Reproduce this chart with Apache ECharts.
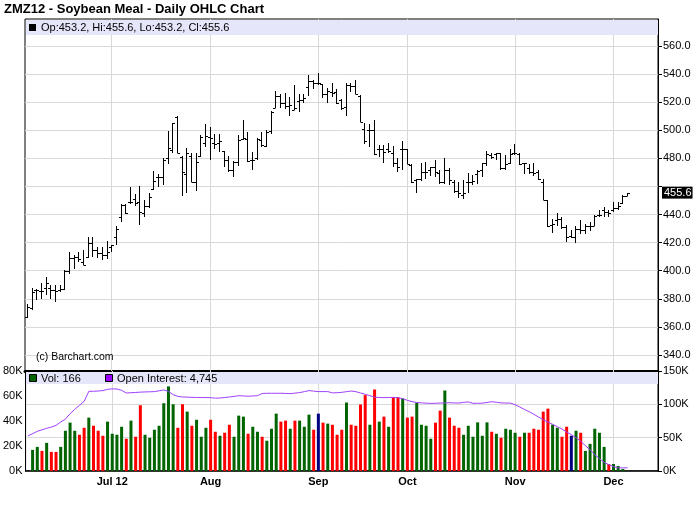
<!DOCTYPE html>
<html><head><meta charset="utf-8">
<script src="https://cdn.jsdelivr.net/npm/echarts@6/dist/echarts.min.js"></script>
<style>html,body{margin:0;padding:0;background:#fff}#c{width:700px;height:512px}</style>
</head><body><div id="c"></div>
<script>
// ---- categories (trading days) ----
const tradingDays = {
  '2012-06': [6,7,8,11,12,13,14,15,18,19,20,21,22,25,26,27,28,29],
  '2012-07': [2,3,5,6,9,10,11,12,13,16,17,18,19,20,23,24,25,26,27,30,31],
  '2012-08': [1,2,3,6,7,8,9,10,13,14,15,16,17,20,21,22,23,24,27,28,29,30,31],
  '2012-09': [4,5,6,7,10,11,12,13,14,17,18,19,20,21,24,25,26,27,28],
  '2012-10': [1,2,3,4,5,8,9,10,11,12,15,16,17,18,19,22,23,24,25,26,29,30,31],
  '2012-11': [1,2,5,6,7,8,9,12,13,14,15,16,19,20,21,23,26,27,28,29,30],
  '2012-12': [3,4,5,6]
};
const padDates = ['2012-12-07','2012-12-10','2012-12-11','2012-12-12','2012-12-13','2012-12-14'];
const monthStarts = ['2012-07-02','2012-08-01','2012-09-04','2012-10-01','2012-11-01','2012-12-03'];
const monthLabels = ['Jul 12','Aug','Sep','Oct','Nov','Dec'];
const priceTicks = [340,360,380,400,420,440,460,480,500,520,540,560];

// ---- series values ----
const open = [
367,373.5,386,385.5,387.5,388,386.5,386.5,387,400,
409,409.5,406,410,419.5,414.5,412.5,411,417,424,
438,446.5,449,451,449,441,446,458.5,467,466.5,
480,486,509.5,481,469,482,463,482,491,495,
491,491,485,479,471.5,477.5,494,494,478.5,480,
493,489,499.5,516,524.5,519.5,517,514.5,521,521.5,
531,535,534,533,526,527,527,521.5,516.5,532.5,
531.5,524.5,501,500,500,487,486.5,487,484,477,
487,486.5,475,464.5,465,470,471.5,474,469.5,463.5,
472,463.5,457,454,463,463.5,469,472,477,482.5,
483,483.5,473,476.5,483.5,483,476.5,473,470,470.5,
463.5,450,432.5,436,436.5,431,424.5,424,429.5,429,
431.5,432,439.5,443,442,443,445,448,453.2];
const high = [
376,388,387,391,395.5,389.5,389.5,389.5,400.5,413.5,
411.5,413,414.5,424,424,417,417,421,418,431.5,
447.5,447.5,459.5,454.5,460.5,450,455,471,469,480,
499.5,505.5,510,482,487.5,484,483.5,496.5,504.5,502,
497.5,497,485.5,482,478,496.5,507.5,498.5,484.5,494.5,
498.5,500,513.5,528,526,526.5,523.5,532,526,526,
539,535.5,541,533,530,533.5,529.5,522.5,534,534,
535.5,525,505,504.5,507,489.5,489.5,491,488.5,480.5,
492.5,487,476,465.5,477,477.5,474,478.5,471.5,480.5,
473,464.5,463.5,464.5,469.5,468,471.5,477,485,483.5,
484,484,482.5,487,490,484,477,476,476.5,471.5,
465,450.5,436.5,441,438,432.5,429,431.5,436,433.5,
435,439.5,443,445.5,443.5,449,449,454,455.6];
const low = [
366,372,379.5,380,383,380,377.5,384.5,386.5,398,
401.5,406,404,409,410,409,407.5,408.5,413,418.5,
435,440.5,447.5,446,432.5,438,445,457.5,459.5,461,
476,484,484,453.5,455.5,463,457,481,488,478.5,
487,484.5,474,470.5,466.5,474.5,493,477.5,471.5,478.5,
488,488,497.5,516,516,515.5,510.5,514.5,513,519.5,
524.5,529.5,532,523,519.5,524,519,514.5,510.5,527,
525.5,506,490.5,488,482.5,481,477,483.5,474,470.5,
471.5,476,462.5,455,464,465.5,467.5,467,462,462,
461,455,452,451,455.5,461,462,467,474.5,479.5,
478.5,472,472,476,482.5,475.5,469,469,467.5,464.5,
450,431,427,431.5,429.5,420.5,423,420,426.5,426.5,
428,431.5,438,438,438,442,443,447.5,453.2];
const close = [
374,384.5,386.5,385.5,391,386,385.5,387,400,409,
409.5,408.5,404,419.5,414.5,412.5,411,413,418,430,
447,441,449,448,441.5,446,452.5,464,466.5,479,
487.5,505,484,470.5,483.5,463.5,477.5,495,496,494.5,
490.5,492.5,478.5,471.5,477.5,493,494.5,478,479,494,
489.5,499,513,524.5,519.5,517,518,516,521.5,523,
535,533.5,533.5,526,528,526.5,519.5,516,532.5,531.5,
526,506,492.5,500,483,487,484.5,485.5,477,474,
486.5,476,463.5,465,470,470.5,473.5,470.5,463,472,
464.5,457,455,455.5,463.5,464,471,476.5,483,481,
483.5,473,476,483,484,476,476.5,470,469.5,465,
450.5,431.5,433.5,436.5,431,424,424,429.5,429,431.5,
432,439,440,441.5,441,445,446,453,455.6];
const volume = [
null,16900,19300,16100,22500,15300,15300,19300,32200,38700,
32200,29000,34600,42700,36200,32200,28200,39500,29800,29000,
35400,25800,40300,27400,52600,29000,26600,33000,36200,54200,
67700,53400,34600,53400,47500,36200,41000,27400,34600,41000,
31400,28200,30600,37000,27400,44300,43500,29800,35400,31400,
27400,24200,33800,45900,39500,40300,33800,40300,40300,35400,
45100,33000,45900,38700,37900,37000,29000,33000,54800,37000,
36200,53200,60700,37000,65200,39500,43500,35400,59100,59100,
58000,42700,43500,54500,37000,36200,25800,38700,48300,64400,
42700,36200,34600,29000,36200,27400,38900,28200,38900,31400,
29800,26600,33800,33000,30600,27400,30600,30600,33800,33000,
47500,49900,37000,34600,27400,35400,28200,32200,30600,16100,
21700,33800,30600,19300,5600,5600,4000,1600,166];
const openInterest = [
52700,56000,59500,61800,64000,66000,68400,73500,77800,86000,
92500,98500,104500,119500,119600,120000,120600,122500,123200,123000,
121000,117000,117400,117800,118300,118600,118800,119100,120300,121600,
119300,114500,112000,111000,110800,110500,110300,110200,110100,110000,
109300,109500,110200,111000,111800,113000,112600,112200,112500,113000,
116200,116600,116600,116600,116600,116400,116000,116800,117600,119000,
120600,119800,119100,119100,119100,117200,117400,118000,119000,120000,
119000,117000,115000,113000,110800,110300,110000,110200,110400,110000,
108500,106000,104000,102800,102200,101700,101400,101600,101900,102100,
102400,102100,101900,103000,103600,101500,101600,101800,102800,103900,
103200,102200,101900,101900,99500,96000,92300,89000,85000,81000,
77000,73500,70000,66500,63000,58500,54500,50000,44500,38000,
32000,24500,18500,13000,9500,6500,4800,4700,4745];

// ---- build ----
const dates = [];
Object.keys(tradingDays).forEach(m => tradingDays[m].forEach(d => dates.push(m + '-' + String(d).padStart(2,'0'))));
const cats = dates.concat(padDates);
const n = dates.length;
const ohlc = dates.map((d,i) => [i, open[i], high[i], low[i], close[i]]);
const UP='#006400', DOWN='#ff0000', UNCH='#000080';
const volData = volume.map((v,i) => {
  if (v == null) return null;
  let c = UP;
  if (i > 0) c = close[i] > close[i-1] ? UP : (close[i] < close[i-1] ? DOWN : UNCH);
  return {value: v, itemStyle: {color: c}};
});
const last = n - 1;
const fmt1 = v => v.toFixed(1);
const FONT = '"Liberation Sans", Arial, sans-serif';
const fmtK = v => Math.round(v/1000) + 'K';
const grid0 = {left:25, top:19, width:633, height:352};
const grid1 = {left:25, top:371, width:633, height:100};
// price scale: 560 at y=46, 20 per 28.09px
const pxPer = 28.09 / 20;
const priceMax = 560 + (46 - grid0.top) / pxPer;
const priceMin = 560 - (grid0.top + grid0.height - 46) / pxPer;
// labels hidden where the last-price box sits
const priceLabelTicks = priceTicks.filter(t => Math.abs(t - close[last]) > 8);

const vLines = monthStarts.map(d => ({xAxis: d}));
const gridLineStyle = {color:'#d9d9d9', width:1, type:'solid'};

const chart = echarts.init(document.getElementById('c'), null, {renderer:'canvas'});
chart.setOption({
  animation:false,
  backgroundColor:'#fff',
  textStyle:{fontFamily:FONT},
  grid:[
    Object.assign({show:true, borderColor:'#000', borderWidth:1, backgroundColor:'#fff'}, grid0),
    Object.assign({show:true, borderColor:'#000', borderWidth:1, backgroundColor:'#fff'}, grid1)
  ],
  xAxis:[
    {type:'category', gridIndex:0, data:cats, boundaryGap:true,
     axisLine:{show:true, onZero:false, lineStyle:{color:'#000', width:3}},
     axisTick:{show:false}, axisLabel:{show:false}, splitLine:{show:false}},
    {type:'category', gridIndex:1, data:cats, boundaryGap:true,
     axisLine:{show:true, onZero:false, lineStyle:{color:'#000', width:1.5}},
     axisTick:{show:false}, splitLine:{show:false},
     axisLabel:{show:true, margin:5, fontSize:11, fontWeight:'bold', color:'#000', fontFamily:FONT,
       interval:(idx, val) => monthStarts.indexOf(val) >= 0,
       formatter: val => { const k = monthStarts.indexOf(val); return k >= 0 ? monthLabels[k] : ''; }}}
  ],
  yAxis:[
    {type:'value', gridIndex:0, position:'right', min:priceMin, max:priceMax,
     axisLine:{show:true, lineStyle:{color:'#000', width:1}},
     axisTick:{show:true, length:4, customValues:priceTicks, lineStyle:{color:'#000'}},
     axisLabel:{show:true, customValues:priceLabelTicks, formatter:fmt1, margin:5, fontSize:11, color:'#000', fontFamily:FONT},
     splitLine:{show:true, lineStyle:gridLineStyle}},
    {type:'value', gridIndex:1, position:'left', min:0, max:80000, interval:20000,
     axisLine:{show:true, lineStyle:{color:'#000', width:1}},
     axisTick:{show:false},
     axisLabel:{show:true, formatter:fmtK, margin:3, fontSize:11, color:'#000', fontFamily:FONT},
     splitLine:{show:false}},
    {type:'value', gridIndex:1, position:'right', min:0, max:150000, interval:50000,
     axisLine:{show:true, lineStyle:{color:'#000', width:1}},
     axisTick:{show:true, length:4, lineStyle:{color:'#000'}},
     axisLabel:{show:true, formatter:fmtK, margin:5, fontSize:11, color:'#000', fontFamily:FONT},
     splitLine:{show:true, lineStyle:gridLineStyle}}
  ],
  series:[
    {type:'custom', name:'OHLC', xAxisIndex:0, yAxisIndex:0, data:ohlc, clip:true,
     encode:{x:0, y:[1,2,3,4]},
     renderItem:(params, api) => {
       const i = api.value(0);
       const px = api.coord([i, api.value(1)]);
       const yH = Math.round(api.coord([i, api.value(2)])[1]);
       const yL = Math.round(api.coord([i, api.value(3)])[1]);
       const yO = Math.round(px[1]) + 0.5;
       const yC = Math.round(api.coord([i, api.value(4)])[1]) + 0.5;
       const x = Math.floor(px[0]) + 0.5;
       const st = {stroke:'#000', lineWidth:1};
       return {type:'group', children:[
         {type:'line', shape:{x1:x, y1:yH, x2:x, y2:Math.max(yL, yH+1)}, style:st},
         {type:'line', shape:{x1:x-2.5, y1:yO, x2:x, y2:yO}, style:st},
         {type:'line', shape:{x1:x, y1:yC, x2:x+2.5, y2:yC}, style:st}
       ]};
     },
     markLine:{silent:true, symbol:'none', z:1, animation:false,
       label:{show:false}, lineStyle:gridLineStyle,
       data: vLines.concat([{yAxis: close[last],
         lineStyle:{color:'rgba(0,0,0,0)', width:0},
         label:{show:true, position:'end', distance:4, formatter: fmt1(close[last]),
                color:'#fff', backgroundColor:'#000', padding:[1,1,0,2], fontSize:11, fontFamily:FONT}}])}
    },
    {type:'bar', name:'Vol', xAxisIndex:1, yAxisIndex:1, data:volData, barWidth:3,
     markLine:{silent:true, symbol:'none', z:1, animation:false, label:{show:false}, lineStyle:gridLineStyle, data:vLines}},
    {type:'line', name:'Open Interest', xAxisIndex:1, yAxisIndex:2, data:openInterest,
     symbol:'none', lineStyle:{color:'#a040ff', width:1}, itemStyle:{color:'#a040ff'}, z:3}
  ],
  graphic:[
    {type:'text', x:4, y:3, z:100, style:{text:'ZMZ12 - Soybean Meal - Daily OHLC Chart', font:'bold 13px ' + FONT, fill:'#000'}},
    {type:'rect', z:100, shape:{x:26, y:20, width:632, height:15}, style:{fill:'#e6e6fa'}},
    {type:'rect', z:101, shape:{x:29, y:24, width:7, height:7}, style:{fill:'#000'}},
    {type:'text', z:101, x:41, y:27.5, style:{text:'Op:' + fmt1(open[last]) + ', Hi:' + fmt1(high[last]) + ', Lo:' + fmt1(low[last]) + ', Cl:' + fmt1(close[last]),
      font:'11px ' + FONT, fill:'#000', verticalAlign:'middle'}},
    {type:'text', z:100, x:36, y:357, style:{text:'(c) Barchart.com', font:'10.5px ' + FONT, fill:'#000', verticalAlign:'middle'}},
    {type:'rect', z:100, shape:{x:26, y:372, width:632, height:12}, style:{fill:'#e6e6fa'}},
    {type:'rect', z:101, shape:{x:29.5, y:374.5, width:7, height:7}, style:{fill:UP, stroke:'#000', lineWidth:1}},
    {type:'text', z:101, x:41, y:378.5, style:{text:'Vol: ' + volume[last].toLocaleString('en-US'), font:'11px ' + FONT, fill:'#000', verticalAlign:'middle'}},
    {type:'rect', z:101, shape:{x:105.5, y:374.5, width:7, height:7}, style:{fill:'#9900ff', stroke:'#000', lineWidth:1}},
    {type:'text', z:101, x:117, y:378.5, style:{text:'Open Interest: ' + openInterest[last].toLocaleString('en-US'), font:'11px ' + FONT, fill:'#000', verticalAlign:'middle'}}
  ]
});
</script></body></html>
